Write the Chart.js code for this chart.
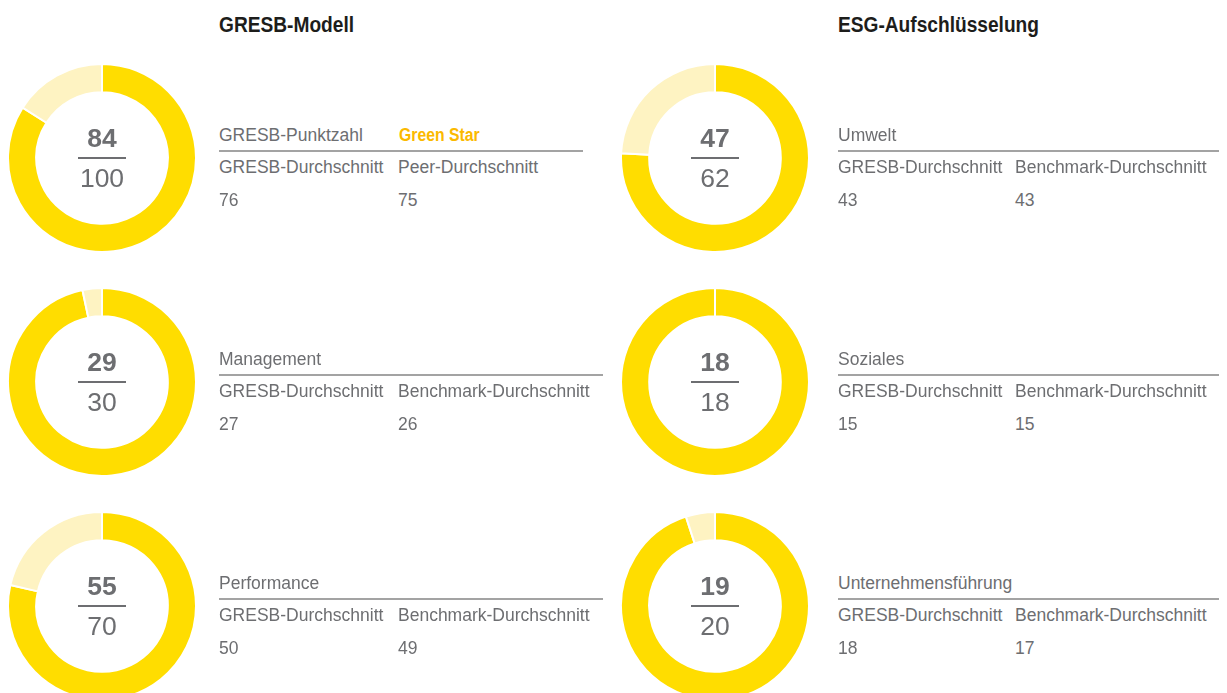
<!DOCTYPE html>
<html>
<head>
<meta charset="utf-8">
<script src="https://cdn.jsdelivr.net/npm/chart.js@4"></script>
<style>
  body {
    margin: 0;
    width: 1227px;
    height: 693px;
    overflow: hidden;
    background: #fff;
    position: relative;
    font-family: "Liberation Sans", Arial, sans-serif;
    color: #6d6e71;
  }
  .abs { position: absolute; white-space: nowrap; line-height: 1; }
  .title { font-weight: bold; font-size: 22px; color: #1d1d1b; transform: scaleX(0.87); transform-origin: left center; }
  .lbl { font-size: 17.5px; }
  .star { color: #fbb900; font-weight: bold; transform: scaleX(0.9); transform-origin: left center; }
  .num { font-size: 26.5px; text-align: center; width: 100px; }
  .rule { position: absolute; height: 2px; background: #a3a3a3; }
  .frac { position: absolute; height: 2px; background: #6d6e71; }
  .donut { position: absolute; width: 190px; height: 190px; }
</style>
</head>
<body>
<script>
// data
var titles = ["GRESB-Modell", "ESG-Aufschlüsselung"];
var categories = ["GRESB-Punktzahl", "Management", "Performance", "Umwelt", "Soziales", "Unternehmensführung"];
var scores = [84, 29, 55, 47, 18, 19];
var maxScores = [100, 30, 70, 62, 18, 20];
var gresbAvgLabel = "GRESB-Durchschnitt";
var gresbAvg = [76, 27, 50, 43, 15, 18];
var compareLabels = ["Peer-Durchschnitt", "Benchmark-Durchschnitt", "Benchmark-Durchschnitt",
  "Benchmark-Durchschnitt", "Benchmark-Durchschnitt", "Benchmark-Durchschnitt"];
var compareAvg = [75, 26, 49, 43, 15, 17];
var rating = "Green Star";

// layout
var colDonutX = [7, 620];
var colTextX = [219, 838];
var col2X = [398, 1015];
var rowTop = [63, 287, 511];
var ruleEnd = [[583, 603, 603], [1219, 1219, 1219]];

var yellow = "#ffdd00";
var paleYellow = "#fef3c2";

function place(text, x, baseline, cls, fs) {
  var d = document.createElement("div");
  d.className = "abs " + cls;
  d.textContent = text;
  d.style.left = x + "px";
  d.style.top = (baseline - 0.8465 * fs) + "px";
  document.body.appendChild(d);
  return d;
}

function rect(cls, x, y, w) {
  var d = document.createElement("div");
  d.className = cls;
  d.style.left = x + "px";
  d.style.top = y + "px";
  d.style.width = w + "px";
  document.body.appendChild(d);
}

titles.forEach(function(t, c) {
  place(t, colTextX[c], 33, "title", 22);
});

for (var i = 0; i < scores.length; i++) {
  var c = Math.floor(i / 3);
  var r = i % 3;
  var rowY = rowTop[r];
  var left = colDonutX[c];
  var cx = left + 95;
  var cy = rowY + 95;

  var wrap = document.createElement("div");
  wrap.className = "donut";
  wrap.style.left = left + "px";
  wrap.style.top = rowY + "px";
  var cv = document.createElement("canvas");
  cv.width = 190;
  cv.height = 190;
  wrap.appendChild(cv);
  document.body.appendChild(wrap);

  new Chart(cv.getContext("2d"), {
    type: "doughnut",
    data: {
      labels: ["Punkte", "Rest"],
      datasets: [
        {
          data: [scores[i], maxScores[i] - scores[i]],
          backgroundColor: [yellow, paleYellow],
          borderColor: "#ffffff",
          borderWidth: 2
        }
      ]
    },
    options: {
      responsive: false,
      animation: false,
      cutout: "70%",
      plugins: { legend: { display: false }, tooltip: { enabled: false } }
    }
  });

  // centre fraction
  place(String(scores[i]), cx - 50, cy - 11, "num", 26.5).style.fontWeight = "bold";
  rect("frac", cx - 24, cy - 1, 48);
  place(String(maxScores[i]), cx - 50, cy + 29, "num", 26.5);

  // labels beside
  var tx = colTextX[c];
  var base = rowY + 79;
  place(categories[i], tx, base, "lbl", 17.5);
  if (i == 0) {
    place(rating, col2X[c] + 1, base, "lbl star", 17.5);
  }
  rect("rule", tx, base + 8, ruleEnd[c][r] - tx);
  place(gresbAvgLabel, tx, base + 32, "lbl", 17.5);
  place(compareLabels[i], col2X[c], base + 32, "lbl", 17.5);
  place(String(gresbAvg[i]), tx, base + 65, "lbl", 17.5);
  place(String(compareAvg[i]), col2X[c], base + 65, "lbl", 17.5);
}
</script>
</body>
</html>
